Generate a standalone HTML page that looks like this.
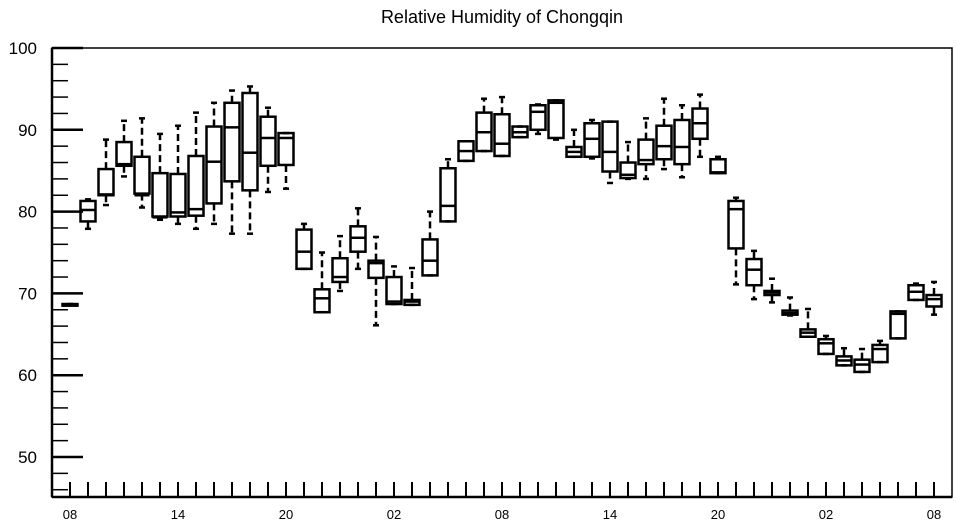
<!DOCTYPE html>
<html><head><meta charset="utf-8"><style>
html,body{margin:0;padding:0;background:#fff;}
svg{display:block;font-family:"Liberation Sans",sans-serif;}
</style></head><body>
<svg id="chart" width="957" height="526" viewBox="0 0 957 526">
<rect x="0" y="0" width="957" height="526" fill="#fff"/>
<text x="502" y="23" font-size="18" text-anchor="middle" fill="#000">Relative Humidity of Chongqin</text>
<g id="axes"></g>
<g id="boxes"></g>
</svg>
<script>
const hourLabels = ["08","14","20","02","08","14","20","02","08"];
const yTicks = [50,60,70,80,90,100];
const lows =   [68.6,77.9,80.8,84.3,80.5,79.0,78.5,77.9,78.5,77.3,77.3,82.4,82.8,73.0,67.7,70.3,73.0,66.1,68.7,68.6,72.2,78.8,86.2,87.4,86.8,89.1,89.5,88.8,86.7,86.5,83.5,84.0,84.0,85.2,84.2,86.7,84.7,71.1,69.3,68.9,67.3,64.7,62.6,61.2,60.4,61.6,64.5,69.2,67.4];
const q1s =    [68.5,78.8,82.0,85.6,82.2,79.4,79.4,79.5,81.0,83.7,82.6,85.6,85.7,73.0,67.7,71.4,75.1,71.9,68.7,68.6,72.2,78.8,86.2,87.4,86.8,89.1,90.0,89.0,86.7,86.7,84.9,84.1,85.8,86.4,85.8,88.9,84.7,75.5,71.0,69.8,67.4,64.7,62.6,61.2,60.4,61.6,64.5,69.2,68.4];
const medians =[68.6,80.2,82.1,85.8,82.0,79.3,79.9,80.3,86.1,90.3,87.2,89.0,89.0,75.1,69.4,72.0,76.8,73.7,69.0,69.0,74.0,80.7,87.4,89.7,88.3,89.7,92.2,93.3,87.3,88.9,87.3,84.5,86.3,88.0,87.9,90.8,84.8,80.3,72.9,70.1,67.6,65.2,63.9,61.8,61.3,63.2,67.5,70.2,69.3];
const q3s =    [68.7,81.3,85.2,88.5,86.7,84.7,84.6,86.8,90.4,93.3,94.5,91.6,89.6,77.8,70.5,74.3,78.2,74.0,72.0,69.2,76.6,85.3,88.6,92.1,91.9,90.4,93.0,93.6,87.9,90.8,91.0,86.0,88.8,90.5,91.2,92.6,86.4,81.3,74.2,70.3,67.9,65.6,64.4,62.3,61.9,63.7,67.8,71.0,69.8];
const highs =  [68.7,81.5,88.8,91.1,91.4,89.5,90.5,92.1,93.3,94.8,95.3,92.7,89.6,78.5,75.0,77.0,80.4,76.9,73.3,73.1,80.0,86.4,88.6,93.8,94.0,90.4,93.1,93.6,90.0,91.2,91.0,88.5,91.4,93.8,93.0,94.3,86.7,81.7,75.2,71.8,69.5,68.1,64.8,63.3,63.2,64.2,67.8,71.2,71.4];

const NS="http://www.w3.org/2000/svg";
const X0=52, X1=952, Y0=48, Y1=497;
function xPos(i){return 70+18*i;}
function yPos(v){return 48+(100-v)*8.18;}
function mk(tag,attrs,parent){const e=document.createElementNS(NS,tag);for(const k in attrs)e.setAttribute(k,attrs[k]);parent.appendChild(e);return e;}
const axes=document.getElementById('axes');
const frame=mk('rect',{x:X0,y:Y0,width:X1-X0,height:Y1-Y0,fill:'none',stroke:'#000','stroke-width':1.5},axes);


const la=mk('line',{x1:X0,y1:Y0,x2:X0,y2:Y1,stroke:'#000','stroke-width':2.5},axes);


const ba=mk('line',{x1:X0,y1:Y1,x2:X1,y2:Y1,stroke:'#000','stroke-width':2.5},axes);


// y ticks
for(let v=46;v<=100;v+=2){
  const major=(v%10===0);
  const t=mk('line',{x1:X0,y1:yPos(v),x2:X0+(major?31:16),y2:yPos(v),stroke:'#000','stroke-width':major?2.5:1.5},axes);
  
  
}
yTicks.forEach(v=>{
  const t=mk('text',{x:37,y:yPos(v)+6,'font-size':17,'text-anchor':'end',fill:'#000'},axes);
  t.textContent=v;
  
  
});
for(let i=0;i<=48;i++){
  const t=mk('line',{x1:xPos(i),y1:Y1,x2:xPos(i),y2:Y1-15,stroke:'#000','stroke-width':2},axes);
  
  
}
hourLabels.forEach((s,k)=>{
  const t=mk('text',{x:xPos(k*6),y:519,'font-size':13,'text-anchor':'middle',fill:'#000'},axes);
  t.textContent=s;
  
  
});
// boxes
const boxes=document.getElementById('boxes');
const W=15;
for(let i=0;i<lows.length;i++){
  const g=mk('g',{},boxes);
  
  
  const cx=xPos(i);
  const yl=yPos(lows[i]),yq1=yPos(q1s[i]),ym=yPos(medians[i]),yq3=yPos(q3s[i]),yh=yPos(highs[i]);
  if(yh<yq3-1){
    const w=mk('line',{x1:cx,y1:yq3,x2:cx,y2:yh,stroke:'#000','stroke-width':2.5,'stroke-dasharray':'7,4'},g);
    
    
  }
  if(yl>yq1+1){
    const w=mk('line',{x1:cx,y1:yq1,x2:cx,y2:yl,stroke:'#000','stroke-width':2.5,'stroke-dasharray':'7,4'},g);
    
    
  }
  const c1=mk('line',{x1:cx-3,y1:yh,x2:cx+3,y2:yh,stroke:'#000','stroke-width':2.5},g);
  
  
  const c2=mk('line',{x1:cx-3,y1:yl,x2:cx+3,y2:yl,stroke:'#000','stroke-width':2.5},g);
  
  
  const r=mk('rect',{x:cx-W/2,y:yq3,width:W,height:Math.max(1,yq1-yq3),fill:'none',stroke:'#000','stroke-width':2.5},g);
  
  
  const m=mk('line',{x1:cx-W/2,y1:ym,x2:cx+W/2,y2:ym,stroke:'#000','stroke-width':2.5},g);
  
  
}
</script>
</body></html>
